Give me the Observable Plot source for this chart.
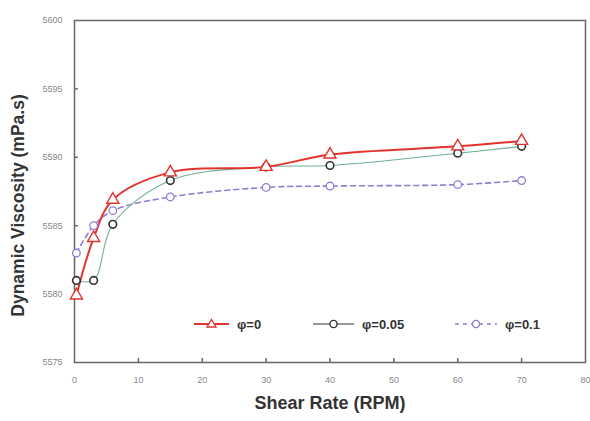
<!DOCTYPE html>
<html>
<head>
<meta charset="utf-8">
<script src="https://cdn.jsdelivr.net/npm/d3@7"></script>
<script src="https://cdn.jsdelivr.net/npm/@observablehq/plot@0.6"></script>
<style>
  html, body { margin: 0; padding: 0; background: #fff; }
  #wrap { position: relative; width: 590px; height: 421px; }
  .legend { position: absolute; top: 314px; left: 0; width: 590px; height: 20px;
            font: bold 13px "Liberation Sans", Arial, sans-serif; color: #333; }
  .item { position: absolute; display: flex; align-items: center; height: 20px; }
  .item svg { margin-right: 8px; }
</style>
</head>
<body>
<div id="wrap"></div>
<script>
// Shear rate (RPM) at which viscosity was measured
const shearRate = [0.3, 3, 6, 15, 30, 40, 60, 70];

// Dynamic viscosity (mPa.s) for each volume fraction
const visc0   = [5579.9, 5584.1, 5586.9, 5588.9, 5589.3, 5590.2, 5590.8, 5591.2];
const visc005 = [5581.0, 5581.0, 5585.1, 5588.3, 5589.3, 5589.4, 5590.3, 5590.8];
const visc01  = [5583.0, 5585.0, 5586.1, 5587.1, 5587.8, 5587.9, 5588.0, 5588.3];

const seriesNames = ["φ=0", "φ=0.05", "φ=0.1"];
const xTicks = [0, 10, 20, 30, 40, 50, 60, 70, 80];
const yTicks = [5575, 5580, 5585, 5590, 5595, 5600];

const rows = (vals, name) => shearRate.map((x, i) => ({x, y: vals[i], name}));
const s0 = rows(visc0, seriesNames[0]);
const s1 = rows(visc005, seriesNames[1]);
const s2 = rows(visc01, seriesNames[2]);

const red = "#e2332f", teal = "#6fae96", dark = "#333333", purple = "#8b7fd3";
const plain = d3.format("d");

const chart = Plot.plot({
  width: 590,
  height: 421,
  marginLeft: 74,
  marginRight: 5,
  marginTop: 20,
  marginBottom: 59,
  style: {fontFamily: "Liberation Sans, Arial, sans-serif", background: "#fff"},
  x: {type: "linear", domain: [0, 80]},
  y: {type: "linear", domain: [5575, 5600]},
  marks: [
    Plot.frame({stroke: "#666", strokeWidth: 1.5}),
    Plot.axisX({ticks: xTicks, tickSize: 0, tickPadding: 14, fontSize: 9, color: "#888", label: null, tickFormat: plain}),
    Plot.axisY({ticks: yTicks, tickSize: 0, tickPadding: 12, fontSize: 9, color: "#888", label: null, tickFormat: plain}),
    // inward tick marks on the bottom and left edges
    Plot.ruleX(xTicks.slice(1, -1), {x: d => d, y1: 5575, y2: 5575.3, stroke: "#666", strokeWidth: 1.5}),
    Plot.ruleY(yTicks.slice(1, -1), {y: d => d, x1: 0, x2: 0.6, stroke: "#666", strokeWidth: 1.5}),
    Plot.text(["Dynamic Viscosity (mPa.s)"], {frameAnchor: "left", textAnchor: "middle", dx: -56, dy: 14, rotate: -90, fontSize: 17.5, fontWeight: "bold", fill: "#333", text: d => d}),
    Plot.text(["Shear Rate (RPM)"], {frameAnchor: "bottom", dy: 46, fontSize: 18, fontWeight: "bold", fill: "#333", text: d => d}),
    // curves
    Plot.line(s2, {x: "x", y: "y", stroke: purple, strokeWidth: 1.6, strokeDasharray: "5,4", curve: "catmull-rom"}),
    Plot.line(s1, {x: "x", y: "y", stroke: teal, strokeWidth: 1.1, curve: "catmull-rom"}),
    Plot.line(s0, {x: "x", y: "y", stroke: red, strokeWidth: 2, curve: "catmull-rom"}),
    // markers
    Plot.dot(s2, {x: "x", y: "y", r: 3.8, stroke: purple, strokeWidth: 1.3, fill: "white"}),
    Plot.dot(s1, {x: "x", y: "y", r: 3.8, stroke: dark, strokeWidth: 1.6, fill: "white"}),
    Plot.dot(s0, {x: "x", y: "y", r: 4.5, symbol: "triangle", stroke: red, strokeWidth: 1.4, fill: "white"})
  ]
});

const wrap = document.getElementById("wrap");
wrap.appendChild(chart);

// Legend overlay inside the plot area
const legend = document.createElement("div");
legend.className = "legend";
const items = [
  {name: seriesNames[0], left: 194, w: 35, color: red, width: 2, dash: null, sym: "tri"},
  {name: seriesNames[1], left: 313, w: 41, color: dark, width: 1, dash: null, sym: "circ", symColor: dark},
  {name: seriesNames[2], left: 455, w: 42, color: purple, width: 1.4, dash: "4,4", sym: "circ", symColor: purple}
];
for (const it of items) {
  const d = document.createElement("div");
  d.className = "item";
  d.style.left = it.left + "px";
  const c = it.w / 2;
  const symbol = it.sym === "tri"
    ? `<path d="M${c},5.5 L${c + 4.5},13 L${c - 4.5},13 Z" fill="white" stroke="${it.color}" stroke-width="1.3"/>`
    : `<circle cx="${c}" cy="10" r="3.6" fill="white" stroke="${it.symColor}" stroke-width="1.4"/>`;
  d.innerHTML = `<svg width="${it.w}" height="20"><line x1="0" x2="${it.w}" y1="10" y2="10" stroke="${it.color}" stroke-width="${it.width}" ${it.dash ? `stroke-dasharray="${it.dash}"` : ""}/>${symbol}</svg><span>${it.name}</span>`;
  legend.appendChild(d);
}
wrap.appendChild(legend);
</script>
</body>
</html>
